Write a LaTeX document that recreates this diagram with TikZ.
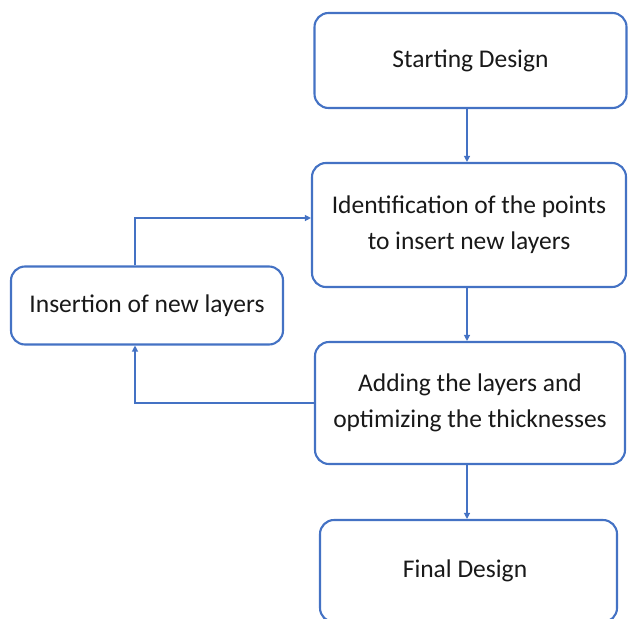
\documentclass[tikz,border=0pt]{standalone}
\usepackage{fontspec}
\setmainfont{Carlito}
\usetikzlibrary{arrows.meta}
\definecolor{bblue}{HTML}{4472C4}
\begin{document}
\begin{tikzpicture}[x=1pt,y=-1pt,
  box/.style={draw=bblue,line width=2.1pt,rounded corners=14pt,fill=white,
    align=center,font=\fontsize{25.5}{36}\selectfont,inner sep=0pt,text=black!90},
  conn/.style={draw=bblue,line width=1.2pt,-{Triangle[length=6pt,width=6pt]}}]
\useasboundingbox (0,0) rectangle (628,618);
\begin{scope}
\clip (0,0) rectangle (628,618);
\node[box,minimum width=312pt,minimum height=95pt] (start) at (470.5,60.5) {Starting Design};
\node[box,minimum width=314pt,minimum height=124pt] (ident) at (469,225) {Identification of the points\\to insert new layers};
\node[box,minimum width=272pt,minimum height=78pt] (ins) at (147,305.5) {Insertion of new layers};
\node[box,minimum width=310pt,minimum height=122pt] (add) at (470,403) {Adding the layers and\\optimizing the thicknesses};
\node[box,minimum width=297pt,minimum height=102pt] (final) at (468.5,571) {};
\node[font=\fontsize{25.5}{36}\selectfont,text=black!90,inner sep=0pt] (finaltxt) at (465,571) {Final Design};
\end{scope}
\draw[conn] (start.south -| 467,0) -- (ident.north -| 467,0);
\draw[conn] (ident.south -| 467,0) -- (add.north -| 467,0);
\draw[conn] (add.south -| 467,0) -- (final.north -| 467,0);
\draw[conn] ([xshift=-12pt]ins.north) |- ([yshift=7pt]ident.west);
\draw[conn] (add.west) -| ([xshift=-12pt]ins.south);
\end{tikzpicture}
\end{document}
